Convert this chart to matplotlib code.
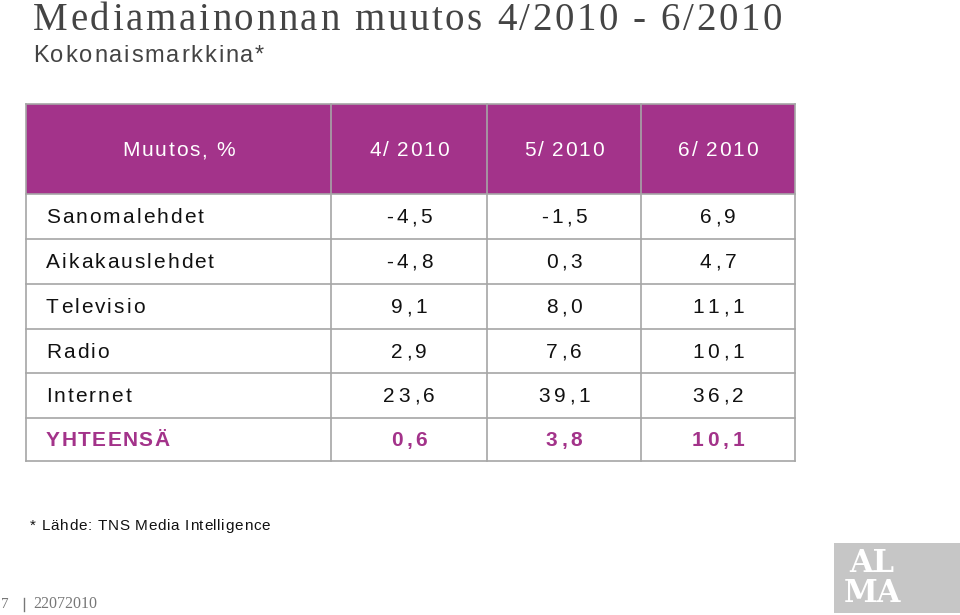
import matplotlib.pyplot as plt
from matplotlib.patches import Rectangle

# table data
months = ['4/ 2010', '5/ 2010', '6/ 2010']
media = ['Sanomalehdet', 'Aikakauslehdet', 'Televisio', 'Radio', 'Internet']
apr = [-4.5, -4.8, 9.1, 2.9, 23.6]
may = [-1.5, 0.3, 8.0, 7.6, 39.1]
jun = [6.9, 4.7, 11.1, 10.1, 36.2]
total = [0.6, 3.8, 10.1]

PURPLE = '#a3338a'
GRID = '#a6a6a6'


def fmt(v):
    return f'{v:.1f}'.replace('.', ',')


fig = plt.figure(figsize=(9.6, 6.15), dpi=100)
ax = fig.add_axes([0, 0, 1, 1])
ax.set_xlim(0, 960)
ax.set_ylim(615, 0)
ax.axis('off')
renderer = fig.canvas.get_renderer()


def char_width(c, **kw):
    # width of a single character in pixels (spaces measured via 'x x' - 'xx')
    def w(s):
        t = ax.text(0, 0, s, **kw)
        e = t.get_window_extent(renderer).width
        t.remove()
        return e
    if c == ' ':
        return w('x x') - w('xx')
    return w(c)


def spaced_text(x, y, s, track, ha='left', **kw):
    widths = [char_width(c, **kw) for c in s]
    total_w = sum(widths) + track * (len(s) - 1)
    if ha == 'center':
        x = x - total_w / 2
    for c, cw in zip(s, widths):
        if c != ' ':
            ax.text(x, y, c, ha='left', **kw)
        x += cw + track


# titles
spaced_text(33, 20, 'Mediamainonnan muutos 4/2010 - 6/2010', 2.6,
            family='Liberation Serif', fontsize=28, color='#444444', va='center')
spaced_text(33, 56, 'Kokonaismarkkina*', 1.8, family='Liberation Sans',
            fontsize=17, color='#444444', va='center')

# table geometry
col_x = [26, 331, 487, 641, 795]
row_y = [104, 194, 239, 284, 329, 373, 418, 461]

ax.add_patch(Rectangle((col_x[0], row_y[0]), col_x[-1] - col_x[0], row_y[1] - row_y[0],
                       facecolor=PURPLE, edgecolor='none'))
for x in col_x:
    ax.plot([x, x], [row_y[0], row_y[-1]], color=GRID, lw=1.2)
for y in row_y:
    ax.plot([col_x[0], col_x[-1]], [y, y], color=GRID, lw=1.2)

tkw = dict(family='Liberation Sans', fontsize=15, va='center')
hy = (row_y[0] + row_y[1]) / 2 + 2
spaced_text((col_x[0] + col_x[1]) / 2, hy, 'Muutos, %', 1.8, ha='center',
            color='white', **tkw)
for j, m in enumerate(months):
    spaced_text((col_x[j + 1] + col_x[j + 2]) / 2, hy, m, 1.6, ha='center',
                color='white', **tkw)

rows = list(zip(media, apr, may, jun)) + [('YHTEENSÄ', *total)]
for i, (name, *vals) in enumerate(rows):
    y = (row_y[i + 1] + row_y[i + 2]) / 2 + 1
    last = i == len(rows) - 1
    c = PURPLE if last else '#111111'
    w = 'bold' if last else 'normal'
    spaced_text(col_x[0] + 20, y, name, 1.4 if last else 2.0, color=c,
                fontweight=w, **tkw)
    for j, v in enumerate(vals):
        spaced_text((col_x[j + 1] + col_x[j + 2]) / 2, y, fmt(v), 3.6, ha='center',
                    color=c, fontweight=w, **tkw)

# footnote & footer
spaced_text(30, 526, '* Lähde: TNS Media Intelligence', 0.7, family='Liberation Sans',
            fontsize=11, color='#111111', va='center')
ax.text(1, 604, '7', family='Liberation Serif', fontsize=11, color='#777777', va='center')
ax.plot([24, 24], [598, 611], color='#777777', lw=1)
ax.text(33, 604, '22072010', family='Liberation Serif', fontsize=11.5, color='#777777',
        va='center')

# logo
ax.add_patch(Rectangle((834, 543), 126, 70, facecolor='#c6c6c6', edgecolor='none'))
ax.text(872, 564, 'AL', family='DejaVu Serif', fontsize=22, fontweight='bold',
        color='white', ha='center', va='center')
ax.text(872, 593, 'MA', family='DejaVu Serif', fontsize=22, fontweight='bold',
        color='white', ha='center', va='center')

fig.savefig('out.png', dpi=100)
